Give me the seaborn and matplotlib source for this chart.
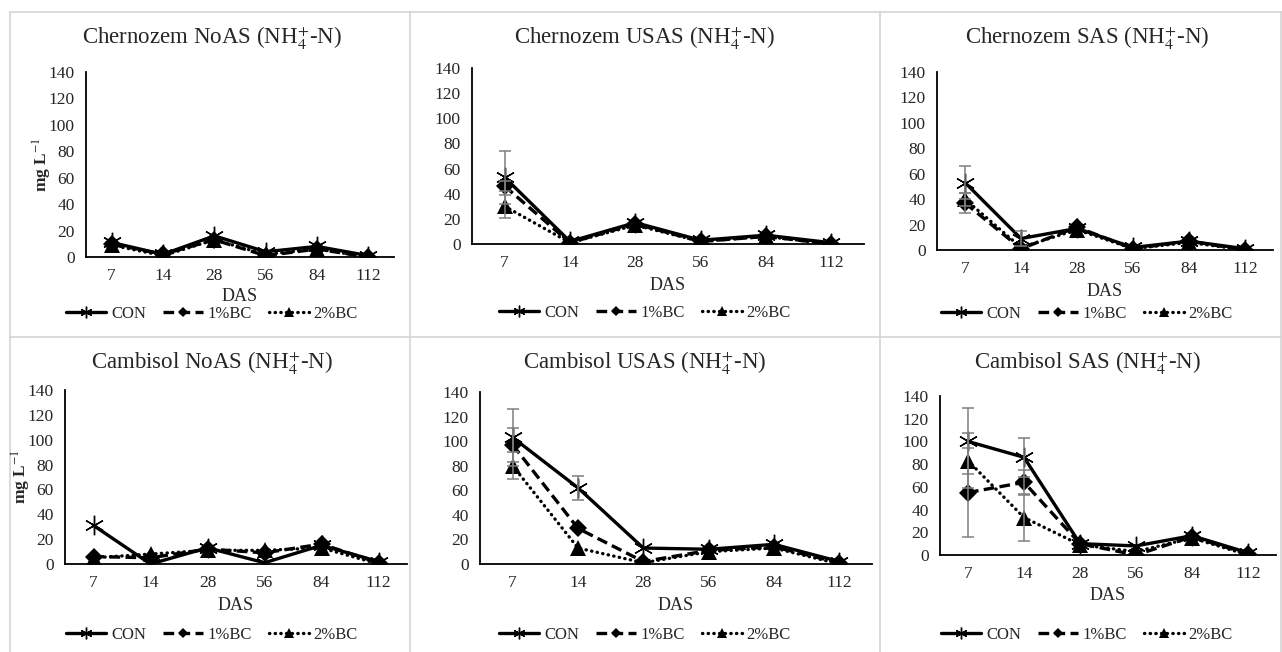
import matplotlib
matplotlib.use("Agg")
import matplotlib.pyplot as plt
import seaborn as sns
from matplotlib.lines import Line2D

# Dias despues de la siembra (categorias del eje x)
das_labels = ["7", "14", "28", "56", "84", "112"]
treatments = ["CON", "1%BC", "2%BC"]

# Chernozem NoAS
chern_noas_con = [11, 2, 16, 4, 8, 1]
chern_noas_bc1 = [10, 2, 13, 1, 6, 0]
chern_noas_bc2 = [9, 1, 13, 2, 6, 0]
chern_noas_con_err = [0, 0, 0, 0, 0, 0]
chern_noas_bc1_err = [0, 0, 0, 0, 0, 0]
chern_noas_bc2_err = [0, 0, 0, 0, 0, 0]

# Chernozem USAS
chern_usas_con = [53, 2, 17, 3, 7, 1]
chern_usas_bc1 = [46, 1, 16, 2, 6, 0]
chern_usas_bc2 = [30, 1, 15, 2, 6, 0]
chern_usas_con_err = [21, 0, 0, 0, 0, 0]
chern_usas_bc1_err = [4, 0, 0, 0, 0, 0]
chern_usas_bc2_err = [9, 0, 0, 0, 0, 0]

# Chernozem SAS
chern_sas_con = [53, 9, 17, 2, 7, 1]
chern_sas_bc1 = [37, 1, 18, 1, 7, 0]
chern_sas_bc2 = [40, 2, 16, 1, 6, 0]
chern_sas_con_err = [13, 6, 0, 0, 0, 0]
chern_sas_bc1_err = [8, 0, 0, 0, 0, 0]
chern_sas_bc2_err = [5, 0, 0, 0, 0, 0]

# Cambisol NoAS
camb_noas_con = [31, 0, 13, 1, 15, 2]
camb_noas_bc1 = [6, 5, 12, 9, 16, 1]
camb_noas_bc2 = [5, 8, 11, 11, 13, 0]
camb_noas_con_err = [0, 0, 0, 0, 0, 0]
camb_noas_bc1_err = [0, 0, 0, 0, 0, 0]
camb_noas_bc2_err = [0, 0, 0, 0, 0, 0]

# Cambisol USAS
camb_usas_con = [103, 62, 13, 12, 16, 2]
camb_usas_bc1 = [97, 29, 2, 11, 14, 1]
camb_usas_bc2 = [80, 13, 1, 10, 13, 0]
camb_usas_con_err = [23, 10, 0, 0, 0, 0]
camb_usas_bc1_err = [14, 0, 0, 0, 0, 0]
camb_usas_bc2_err = [11, 0, 0, 0, 0, 0]

# Cambisol SAS
camb_sas_con = [100, 86, 10, 8, 17, 2]
camb_sas_bc1 = [55, 64, 10, 0, 16, 1]
camb_sas_bc2 = [83, 33, 9, 3, 15, 0]
camb_sas_con_err = [29, 17, 0, 0, 0, 0]
camb_sas_bc1_err = [39, 11, 0, 0, 0, 0]
camb_sas_bc2_err = [24, 21, 0, 0, 0, 0]

sns.set_style("white")
plt.rcParams['font.family'] = ['Liberation Serif', 'DejaVu Serif']
plt.rcParams['mathtext.fontset'] = 'stix'

W, H = 1282, 652
fig = plt.figure(figsize=(W / 100, H / 100), dpi=100)

# estilo de cada tratamiento
line_styles = {
    "CON": dict(linestyle="-", marker=(6, 2, 0), markersize=14, markeredgewidth=1.0),
    "1%BC": dict(linestyle=(0, (3.2, 1.6)), marker="D", markersize=9, markeredgewidth=0),
    "2%BC": dict(linestyle=(0, (0.1, 1.6)), marker="^", markersize=11, markeredgewidth=0,
                 dash_capstyle="round"),
}


def px_axes(left, right, top, bottom):
    return fig.add_axes([left / W, 1 - bottom / H, (right - left) / W, (bottom - top) / H])


def draw_panel(box, title, title_y, series, errors, cell_center, legend_y, xlabel_y,
               show_ylabel=False):
    ax = px_axes(*box)
    positions = list(range(len(das_labels)))

    handles = []
    for name, values, err in zip(treatments, series, errors):
        sns.lineplot(x=positions, y=values, ax=ax, color="black", linewidth=2.4,
                     markerfacecolor="black", markeredgecolor="black",
                     legend=False, zorder=2, **line_styles[name])
        handles.append(ax.lines[-1])
        # solo las barras de error visibles
        idx = [i for i, e in enumerate(err) if e > 0]
        if idx:
            ax.errorbar([positions[i] for i in idx], [values[i] for i in idx],
                        yerr=[err[i] for i in idx], fmt="none", ecolor="#7f7f7f",
                        elinewidth=1.1, capsize=4, capthick=1.1, zorder=3)

    ax.set_xlim(-0.5, len(das_labels) - 0.5)
    ax.set_ylim(0, 140)
    ax.set_yticks(range(0, 141, 20))
    ax.set_xticks(positions)
    ax.set_xticklabels(das_labels)
    ax.tick_params(length=0, labelsize=12.5, pad=8)
    ax.tick_params(axis="y", pad=8)
    for side in ["top", "right"]:
        ax.spines[side].set_visible(False)
    for side in ["left", "bottom"]:
        ax.spines[side].set_color("black")
        ax.spines[side].set_linewidth(1.3)
    ax.set_xlabel("")
    ax.set_ylabel("")

    x_mid = (box[0] + box[1]) / 2 / W
    fig.text(x_mid, 1 - xlabel_y / H, "DAS", ha="center", va="center", fontsize=13)
    fig.text(cell_center / W, 1 - title_y / H, title, ha="center", va="center", fontsize=16.5)
    if show_ylabel:
        y_mid = 1 - (box[2] + box[3]) / 2 / H
        fig.text((box[0] - 44) / W, y_mid, "mg L$^{-1}$", rotation=90, ha="center",
                 va="center", fontsize=12.5, fontweight="bold")

    fig.legend(handles, treatments, loc="center", ncol=3, frameon=False,
               bbox_to_anchor=(cell_center / W, 1 - legend_y / H), fontsize=12,
               handlelength=2.4, handletextpad=0.3, columnspacing=1.0, markerscale=0.6)
    return ax


draw_panel((86, 394, 72, 257), "Chernozem NoAS (NH$_4^{+}$-N)", 38,
           [chern_noas_con, chern_noas_bc1, chern_noas_bc2],
           [chern_noas_con_err, chern_noas_bc1_err, chern_noas_bc2_err],
           212, 314, 297, show_ylabel=True)
draw_panel((472, 864, 68, 244), "Chernozem USAS (NH$_4^{+}$-N)", 38,
           [chern_usas_con, chern_usas_bc1, chern_usas_bc2],
           [chern_usas_con_err, chern_usas_bc1_err, chern_usas_bc2_err],
           645, 313, 286)
draw_panel((937, 1273, 72, 250), "Chernozem SAS (NH$_4^{+}$-N)", 38,
           [chern_sas_con, chern_sas_bc1, chern_sas_bc2],
           [chern_sas_con_err, chern_sas_bc1_err, chern_sas_bc2_err],
           1087, 314, 291)
draw_panel((65, 407, 390, 564), "Cambisol NoAS (NH$_4^{+}$-N)", 363,
           [camb_noas_con, camb_noas_bc1, camb_noas_bc2],
           [camb_noas_con_err, camb_noas_bc1_err, camb_noas_bc2_err],
           212, 635, 605, show_ylabel=True)
draw_panel((480, 872, 392, 564), "Cambisol USAS (NH$_4^{+}$-N)", 363,
           [camb_usas_con, camb_usas_bc1, camb_usas_bc2],
           [camb_usas_con_err, camb_usas_bc1_err, camb_usas_bc2_err],
           645, 635, 605)
draw_panel((940, 1276, 396, 555), "Cambisol SAS (NH$_4^{+}$-N)", 363,
           [camb_sas_con, camb_sas_bc1, camb_sas_bc2],
           [camb_sas_con_err, camb_sas_bc1_err, camb_sas_bc2_err],
           1087, 635, 595)

# lineas grises de la tabla que separa los paneles
grid_color = "#d4d4d4"
for x in [10, 410, 880, 1281]:
    fig.add_artist(Line2D([x / W, x / W], [0, 1 - 12 / H], color=grid_color, lw=1.2))
for y in [12, 337]:
    fig.add_artist(Line2D([10 / W, 1], [1 - y / H, 1 - y / H], color=grid_color, lw=1.2))

fig.savefig("out.png", dpi=100)
